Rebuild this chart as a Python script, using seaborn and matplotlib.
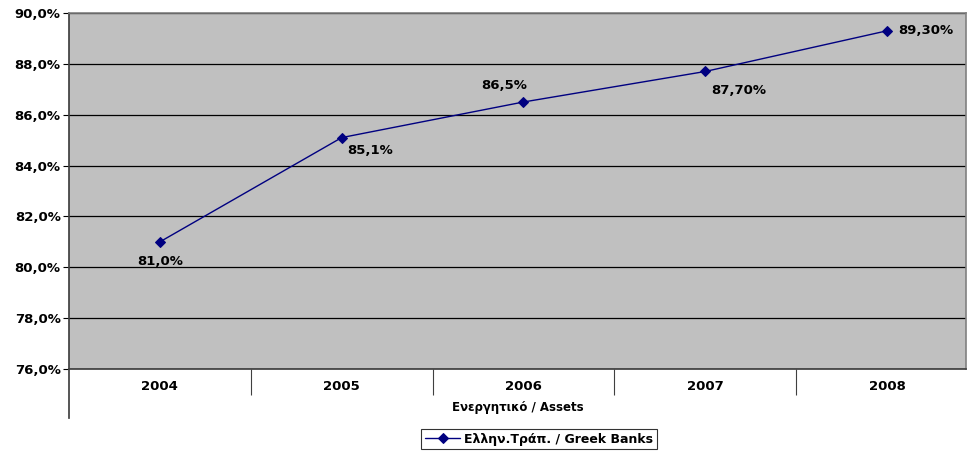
import matplotlib
matplotlib.use("Agg")
import matplotlib.pyplot as plt
import seaborn as sns
import pandas as pd
from matplotlib.ticker import FixedLocator, FuncFormatter

years = ["2004", "2005", "2006", "2007", "2008"]
values = [81.0, 85.1, 86.5, 87.7, 89.3]
point_labels = ["81,0%", "85,1%", "86,5%", "87,70%", "89,30%"]
series_name = "Ελλην.Τράπ. / Greek Banks"
x_title = "Ενεργητικό / Assets"

sns.set_theme(style="white")
plt.rcParams['font.family'] = ['DejaVu Sans']
plt.rcParams['text.color'] = 'black'
plt.rcParams['xtick.color'] = 'black'
plt.rcParams['ytick.color'] = 'black'
plt.rcParams['axes.labelcolor'] = 'black'

df = pd.DataFrame({"x": range(len(years)), "v": values, "s": series_name})

fig = plt.figure(figsize=(9.67, 4.54), dpi=100)
ax = fig.add_axes([69/967, 1-369/454, (966-69)/967, (369-13)/454])
ax.set_facecolor("#C0C0C0")

sns.lineplot(data=df, x="x", y="v", hue="s", palette=["#000080"], marker="D",
             markersize=5, markeredgecolor="#000080", linewidth=1.0, ax=ax)

ax.set_ylim(76, 90)
ax.set_xlim(-0.5, 4 + (966-887)/181.75)
ax.set_yticks([76, 78, 80, 82, 84, 86, 88, 90])
ax.yaxis.set_major_formatter(FuncFormatter(lambda v, p: f"{v:.1f}%".replace(".", ",")))
ax.grid(axis="y", color="black", linewidth=0.9)
ax.set_axisbelow(True)

ax.set_xticks(range(len(years)))
ax.set_xticklabels(years)
ax.xaxis.set_minor_locator(FixedLocator([0.5, 1.5, 2.5, 3.5]))
ax.tick_params(axis="x", which="major", length=0, pad=8, labelsize=9.5)
ax.tick_params(axis="x", which="minor", length=19, width=0.8, color="#404040", direction="out", bottom=True)
ax.tick_params(axis="y", which="major", length=4, width=0.8, color="black", direction="out", left=True, labelsize=9.5, pad=2)
for lab in ax.get_xticklabels() + ax.get_yticklabels():
    lab.set_fontweight("bold")

for s in ["top", "right"]:
    ax.spines[s].set_color("#808080")
    ax.spines[s].set_linewidth(1.2)
ax.spines["bottom"].set_color("#404040")
ax.spines["left"].set_color("#404040")
ax.spines["left"].set_bounds(76 - 49/25.43, 90)

ax.set_xlabel(x_title, fontsize=8.5, fontweight="bold", labelpad=1)
ax.set_ylabel("")

offsets = [(0, -14, "center"), (4, -9, "left"), (-14, 12, "center"), (4, -14, "left"), (8, 0, "left")]
for i, (dx, dy, ha) in enumerate(offsets):
    ax.annotate(point_labels[i], (i, values[i]), xytext=(dx, dy), textcoords="offset points",
                ha=ha, va="center", fontsize=9.5, fontweight="bold", color="black")

handles, labels = ax.get_legend_handles_labels()
ax.legend(handles, labels, loc="center", bbox_to_anchor=(539/967, 1-439/454),
          bbox_transform=fig.transFigure, frameon=True, fancybox=False,
          edgecolor="black", prop={"weight": "bold", "size": 9},
          handlelength=2.8, borderpad=0.3, handletextpad=0.3, borderaxespad=0)
ax.get_legend().get_frame().set_linewidth(0.8)

fig.savefig("out.png", dpi=100)
